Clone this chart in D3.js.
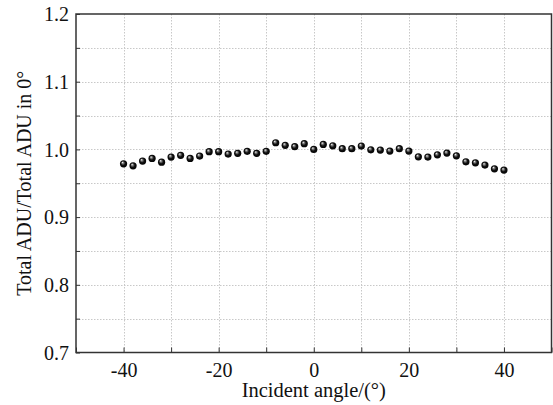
<!DOCTYPE html>
<html><head><meta charset="utf-8">
<script src="https://cdn.jsdelivr.net/npm/d3@7"></script>
<style>body{margin:0;background:#fff}svg{display:block}</style>
</head><body><div id="c"></div>
<script>
const angles = [-40,-38,-36,-34,-32,-30,-28,-26,-24,-22,-20,-18,-16,-14,-12,-10,-8,-6,-4,-2,0,2,4,6,8,10,12,14,16,18,20,22,24,26,28,30,32,34,36,38,40];
const ratios = [0.9787,0.9757,0.9827,0.9867,0.9812,0.9887,0.9912,0.9867,0.9901,0.9966,0.9966,0.9931,0.9942,0.9971,0.9942,0.9971,1.0098,1.0060,1.0040,1.0084,1.0000,1.0074,1.0053,1.0010,1.0010,1.0049,0.9994,0.9990,0.9975,1.0010,0.9975,0.9890,0.9886,0.9920,0.9945,0.9905,0.9817,0.9802,0.9768,0.9713,0.9694];
const xTicks = [-40,-20,0,20,40];
const xMinor = [-50,-40,-30,-20,-10,0,10,20,30,40,50];
const yTicks = [0.7,0.8,0.9,1.0,1.1,1.2];
const yMinor = [0.7,0.75,0.8,0.85,0.9,0.95,1.0,1.05,1.1,1.15,1.2];
const xLabel = "Incident angle/(°)";
const yLabel = "Total ADU/Total ADU in 0°";

const FONT = "Liberation Serif";
const W=553,H=405;
const L=76,R=551.5,T=14,B=352.5;
const svg=d3.select("#c").append("svg").attr("width",W).attr("height",H).attr("font-family",FONT);
const x=d3.scaleLinear().domain([-50,50]).range([L,R]);
const y=d3.scaleLinear().domain([0.7,1.2]).range([B,T]);

const defs=svg.append("defs");
const g=defs.append("radialGradient").attr("id","ball").attr("cx","0.5").attr("cy","0.5").attr("r","0.55").attr("fx","0.35").attr("fy","0.3");
g.append("stop").attr("offset","0").attr("stop-color","#ffffff");
g.append("stop").attr("offset","0.22").attr("stop-color","#888");
g.append("stop").attr("offset","0.55").attr("stop-color","#111");
g.append("stop").attr("offset","1").attr("stop-color","#000");

// grid
const grid=svg.append("g").attr("stroke","#c8c8c8").attr("stroke-width",1).attr("stroke-dasharray","1.5,1.5");
grid.selectAll("line.v").data(xMinor.filter(d=>d>-50&&d<50)).join("line").attr("class","v")
  .attr("x1",d=>Math.round(x(d))+0.5).attr("x2",d=>Math.round(x(d))+0.5).attr("y1",T).attr("y2",B);
grid.selectAll("line.h").data(yMinor.filter(d=>d>0.7&&d<1.2)).join("line").attr("class","h")
  .attr("y1",d=>Math.round(y(d))+0.5).attr("y2",d=>Math.round(y(d))+0.5).attr("x1",L).attr("x2",R);

// axes
const xa=svg.append("g").attr("transform",`translate(0,${B})`)
  .call(d3.axisBottom(x).tickValues(xMinor).tickSize(-5).tickFormat(d=>xTicks.includes(d)?d:""));
xa.selectAll("text").attr("dy",null).attr("y",24);
const ya=svg.append("g").attr("transform",`translate(${L},0)`)
  .call(d3.axisLeft(y).tickValues(yMinor).tickSize(-4).tickFormat(d=>yTicks.some(v=>Math.abs(v-d)<1e-9)?d3.format(".1f")(d):""));
ya.selectAll("text").attr("x",-7).attr("dy","0.34em");
[xa,ya].forEach(a=>{
  a.attr("font-family",FONT).attr("font-size",20);
  a.select(".domain").remove();
  a.selectAll("line").attr("stroke","#333");
  a.selectAll("text").attr("fill","#111");
});

svg.append("rect").attr("x",L).attr("y",T).attr("width",R-L).attr("height",B-T)
  .attr("fill","none").attr("stroke","#333").attr("stroke-width",1.5);

svg.append("g").selectAll("circle").data(angles.map((a,i)=>[a,ratios[i]])).join("circle")
  .attr("cx",d=>x(d[0])).attr("cy",d=>y(d[1])).attr("r",3.6).attr("fill","url(#ball)");

svg.append("text").attr("x",(L+R)/2).attr("y",397).attr("text-anchor","middle")
  .attr("font-family",FONT).attr("font-size",20.5).attr("fill","#111").text(xLabel);
svg.append("text").attr("transform",`translate(31,${(T+B)/2}) rotate(-90)`).attr("text-anchor","middle")
  .attr("font-family",FONT).attr("font-size",20).attr("fill","#111").text(yLabel);
</script></body></html>
